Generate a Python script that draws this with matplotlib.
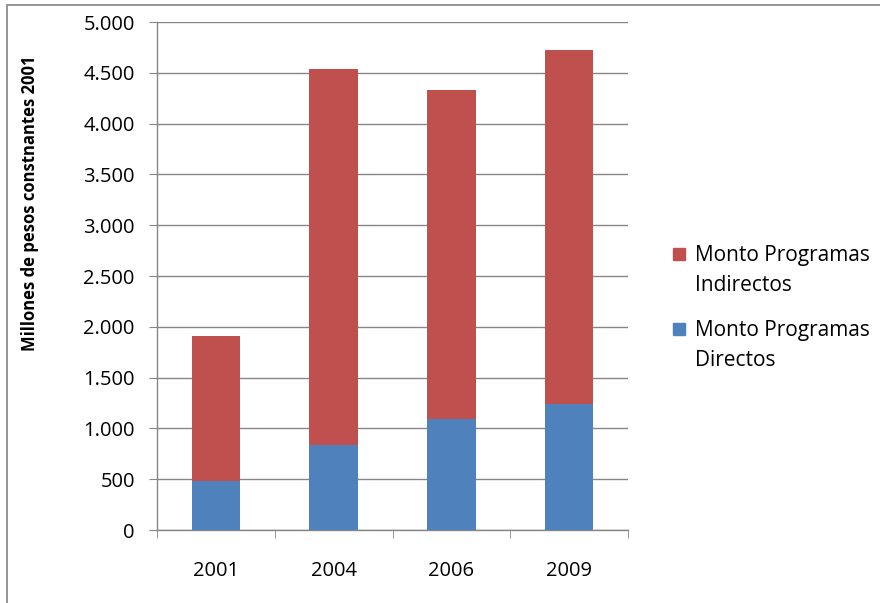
import numpy as np
import matplotlib.pyplot as plt
from matplotlib.patches import Rectangle
from matplotlib.ticker import FuncFormatter, MultipleLocator

years = ["2001", "2004", "2006", "2009"]
directos = [483, 838, 1095, 1238]
indirectos = [1422, 3704, 3240, 3482]
seriesNames = ["Monto Programas\nDirectos", "Monto Programas\nIndirectos"]
colors = ["#4F81BD", "#C0504D"]
yLabel = "Millones de pesos constnantes 2001"

plt.rcParams["font.family"] = ["Open Sans", "DejaVu Sans"]
gridColor = "#868686"

fig = plt.figure(figsize=(8.8, 6.03), dpi=100)
ax = fig.add_axes([157/880, 1-530/603, 471/880, 508/603])

x = np.arange(len(years))
ax.bar(x, directos, width=0.41, color=colors[0], zorder=3)
ax.bar(x, indirectos, width=0.41, bottom=directos, color=colors[1], zorder=3)

ax.set_xlim(-0.5, len(years)-0.5)
ax.set_ylim(0, 5000)
ax.yaxis.set_major_locator(MultipleLocator(500))
ax.yaxis.set_major_formatter(FuncFormatter(lambda v, p: f"{int(v):,}".replace(",", ".")))
ax.grid(axis="y", color=gridColor, lw=1.0, zorder=0)

ax.set_xticks(x)
ax.set_xticklabels(years)
ax.set_xticks(np.arange(-0.5, len(years)), minor=True)
ax.tick_params(axis="x", which="major", length=0, pad=22, labelsize=14.5)
ax.tick_params(axis="x", which="minor", length=6, color=gridColor)
ax.tick_params(axis="y", length=6, color=gridColor, pad=10, labelsize=14.5)

for side in ["top", "right"]:
  ax.spines[side].set_visible(False)
for side in ["left", "bottom"]:
  ax.spines[side].set_color(gridColor)
  ax.spines[side].set_linewidth(1.0)

fig.text(30/880, 1-203/603, yLabel, rotation=90, ha="center", va="center",
  fontsize=12, fontweight="bold")

# legend, drawn by hand (Indirectos first)
legendY = [254, 329]
for (name, color), yPix in zip(list(zip(seriesNames, colors))[::-1], legendY):
  fig.patches.append(Rectangle((673/880, 1-(yPix+6)/603), 12/880, 12/603,
    transform=fig.transFigure, color=color))
  fig.text(695/880, 1-(yPix-9)/603, name, ha="left", va="top",
    fontsize=15, linespacing=1.55)

fig.patches.append(Rectangle((7/880, -0.1), 1.2, 1.1 - 5/603,
  transform=fig.transFigure, fill=False, edgecolor="#8c8c8c", lw=1.3))

plt.savefig("out.png", dpi=100)
